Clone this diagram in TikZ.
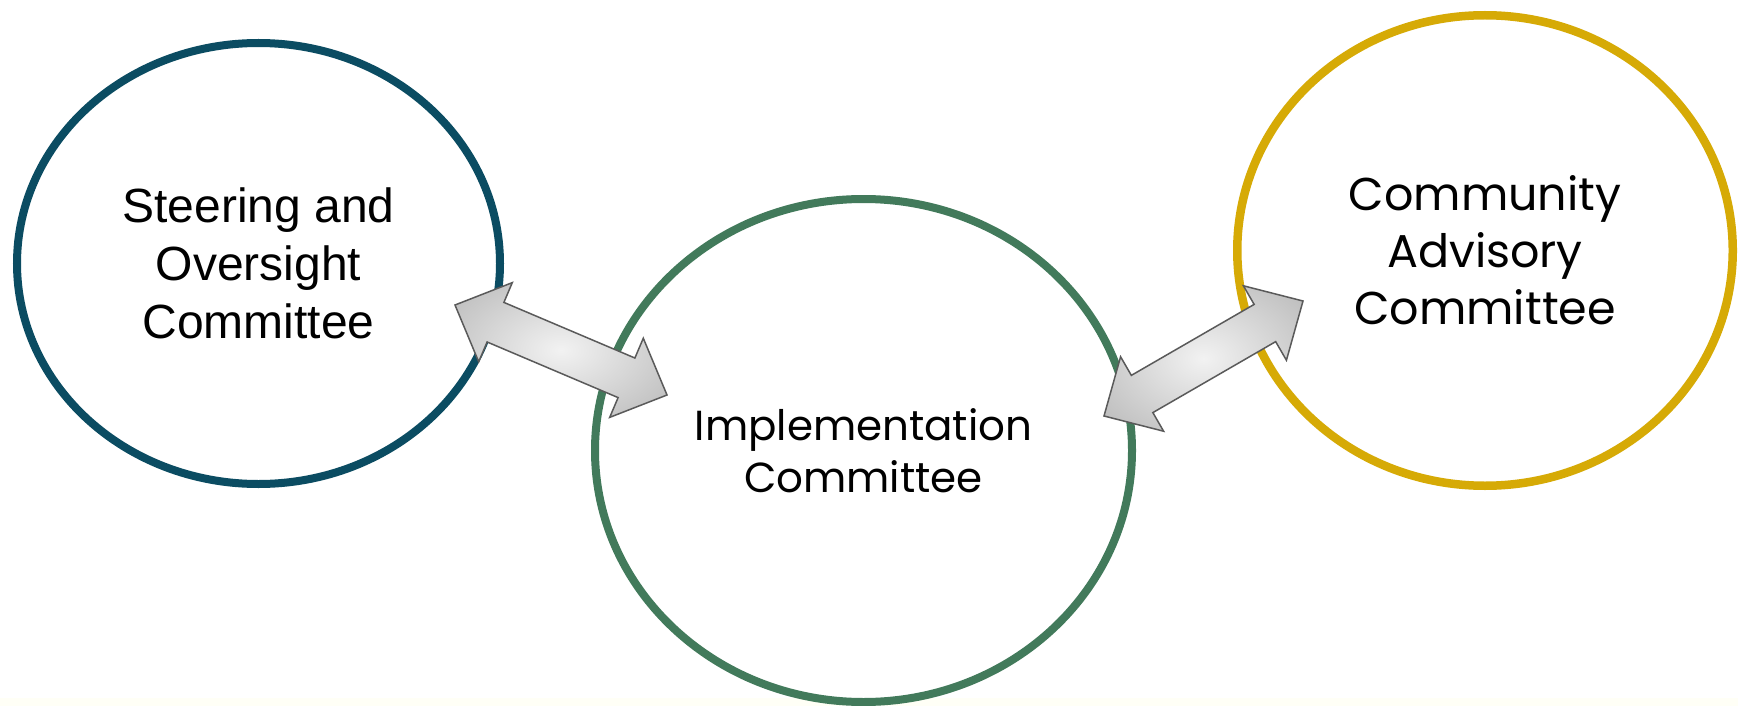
\documentclass[tikz,border=0pt]{standalone}
\usepackage{fontspec}
\setmainfont{Liberation Sans}
\newfontfamily\geofont{Poppins}
\usetikzlibrary{shapes.geometric,calc}
\definecolor{steerblue}{HTML}{0B4C62}
\definecolor{implgreen}{HTML}{427A5B}
\definecolor{commyellow}{HTML}{D6AA06}
\definecolor{arrowedge}{HTML}{5A5A5A}
\definecolor{shadein}{HTML}{F2F2F2}
\definecolor{shadeout}{HTML}{A2A2A2}
\definecolor{bandcolor}{HTML}{FFFFF6}
\pgfdeclareradialshading{arrowshade}{\pgfpointorigin}{color(0bp)=(shadein); color(50bp)=(shadeout)}
\newcommand\drawdblarrow[2]{%
  \coordinate (#1h) at ($(#1)!44pt!(#2)$);
  \coordinate (#2h) at ($(#2)!44pt!(#1)$);
  \path[dblarrow] (#1) -- ($(#1h)!43pt!90:(#2)$) -- ($(#1h)!21.5pt!90:(#2)$)
    -- ($(#2h)!21.5pt!-90:(#1)$) -- ($(#2h)!43pt!-90:(#1)$) -- (#2)
    -- ($(#2h)!43pt!90:(#1)$) -- ($(#2h)!21.5pt!90:(#1)$)
    -- ($(#1h)!21.5pt!-90:(#2)$) -- ($(#1h)!43pt!-90:(#2)$) -- cycle;}
\begin{document}
\begin{tikzpicture}[x=1pt,y=-1pt,
  committee/.style={ellipse, draw, line width=8pt, fill=white, align=center, inner sep=0pt},
  dblarrow/.style={draw=arrowedge, line width=1.5pt, shading=arrowshade, line join=miter}]
\fill[white] (0,0) rectangle (1738,706);
\useasboundingbox (0,0) rectangle (1738,706);
\fill[bandcolor] (0,698) rectangle (1738,706);
\node[committee, draw=steerblue, minimum width=483pt, minimum height=441pt,
  font=\fontsize{48}{58}\selectfont] (steer) at (258.5,263.5)
  {Steering and\\Oversight\\Committee};
\node[committee, draw=implgreen, minimum width=537pt, minimum height=503pt,
  font=\geofont\fontsize{42}{52}\selectfont] (impl) at (863.5,450.5)
  {Implementation\\Committee};
\node[committee, draw=commyellow, line width=8.5pt, minimum width=495.5pt, minimum height=470.5pt,
  font=\geofont\fontsize{46}{57}\selectfont] (comm) at (1485,250.5)
  {Community\\Advisory\\Committee};
\coordinate (tipA) at (455,305);
\coordinate (tipB) at (667,395);
\coordinate (tipC) at (1104,416);
\coordinate (tipD) at (1303,301);
\drawdblarrow{tipA}{tipB}
\drawdblarrow{tipC}{tipD}
\end{tikzpicture}
\end{document}
